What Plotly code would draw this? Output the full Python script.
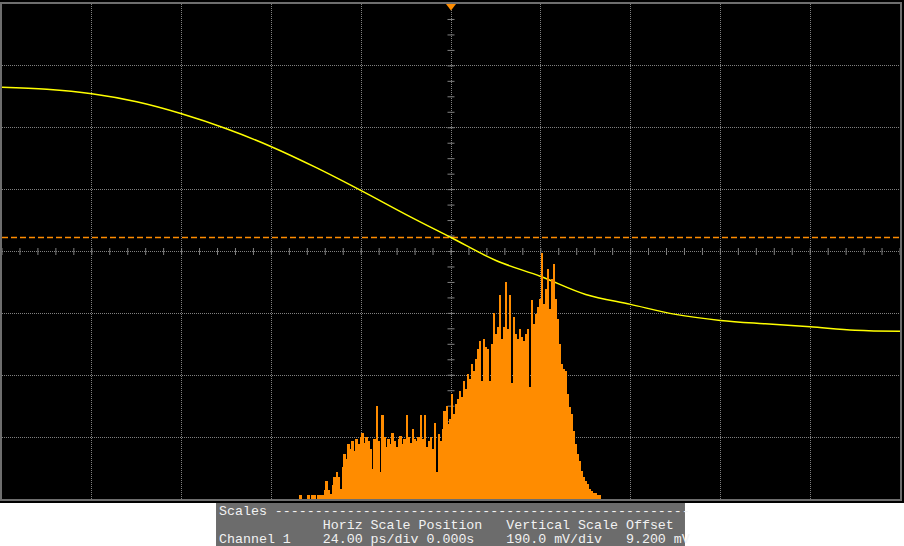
import numpy as np
import plotly.graph_objects as go

# ---- scope settings ----
time_per_div_ps = 24.0
volt_per_div_mv = 190.0
offset_mv = 9.2
threshold_mv = 52.1
n_hdiv = 10
n_vdiv = 8

# ---- channel 1 waveform (time ps, voltage mV) ----
wave_t_ps = [-120, -108, -96, -84, -72, -60, -48, -36, -24, -12, 0,
             12, 24, 36, 48, 60, 72, 84, 96, 108, 120]
wave_mv = [513.3, 507.2, 493.4, 468.9, 432.1, 386.1, 331.0, 266.6, 196.1, 122.6, 52.1,
           -18.4, -67.4, -122.6, -153.2, -183.9, -202.3, -213.0, -222.2, -232.9, -236.0]

# ---- timing histogram (hits per bin) ----
hist_start_ps = -40.4
hist_bin_ps = 0.5333
hist_hits = [
    4, 0, 0, 0, 4, 0, 4, 4, 0, 4,
    4, 4, 9, 18, 9, 5, 14, 22, 27, 22,
    10, 32, 45, 40, 55, 50, 58, 48, 60, 55,
    62, 66, 56, 62, 58, 50, 30, 60, 93, 58,
    27, 84, 62, 52, 60, 55, 66, 58, 52, 60,
    63, 55, 60, 84, 62, 56, 70, 60, 58, 62,
    84, 60, 84, 52, 58, 62, 50, 76, 27, 65,
    58, 70, 88, 93, 75, 80, 105, 85, 95, 100,
    108, 102, 118, 110, 125, 120, 135, 128, 140, 150,
    158, 118, 160, 152, 150, 118, 155, 186, 165, 172,
    204, 160, 172, 217, 170, 204, 116, 182, 165, 160,
    170, 162, 158, 165, 170, 112, 199, 175, 185, 192,
    200, 247, 195, 210, 230, 190, 220, 235, 200, 180,
    155, 135, 130, 128, 105, 92, 85, 68, 55, 45,
    38, 28, 22, 18, 15, 10, 8, 6, 6, 4,
    4,
]
hist_full_scale = 496

# ---- scales panel text ----
panel_lines = [
    "Scales " + "-" * 52,
    "             Horiz Scale Position   Vertical Scale Offset",
    "Channel 1    24.00 ps/div 0.000s    190.0 mV/div   9.200 mV",
]

# ---- colours ----
ORANGE = "#ff8c00"
YELLOW = "#ffff00"
GRID = "#808080"
FRAME = "#6e6e6e"

x_half = time_per_div_ps * n_hdiv / 2
y_lo = offset_mv - volt_per_div_mv * n_vdiv / 2
y_hi = offset_mv + volt_per_div_mv * n_vdiv / 2

hist_centers = hist_start_ps + hist_bin_ps * (np.arange(len(hist_hits)) + 0.5)

fig = go.Figure()

fig.add_trace(go.Bar(
    x=hist_centers, y=hist_hits, width=hist_bin_ps,
    marker=dict(color=ORANGE, line=dict(width=0)),
    yaxis="y2", hoverinfo="skip", showlegend=False,
))

# center-line minor ticks
htick_x = np.arange(-x_half, x_half + 1e-9, time_per_div_ps / 5)
fig.add_trace(go.Scatter(
    x=htick_x, y=[offset_mv] * len(htick_x), mode="markers",
    marker=dict(symbol="line-ns-open", size=5, color=GRID, line=dict(color=GRID, width=1)),
    hoverinfo="skip", showlegend=False,
))
vtick_y = np.arange(y_lo, y_hi + 1e-9, volt_per_div_mv / 4)
fig.add_trace(go.Scatter(
    x=[0] * len(vtick_y), y=vtick_y, mode="markers",
    marker=dict(symbol="line-ew-open", size=5, color=GRID, line=dict(color=GRID, width=1)),
    hoverinfo="skip", showlegend=False,
))

# threshold dashed line
fig.add_trace(go.Scatter(
    x=[-x_half, x_half], y=[threshold_mv, threshold_mv], mode="lines",
    line=dict(color=ORANGE, width=1.5, dash="6px,3px"),
    hoverinfo="skip", showlegend=False,
))

# waveform
fig.add_trace(go.Scatter(
    x=wave_t_ps, y=wave_mv, mode="lines",
    line=dict(color=YELLOW, width=1.5, shape="spline"),
    hoverinfo="skip", showlegend=False,
))

# trigger marker
fig.add_trace(go.Scatter(
    x=[0], y=[y_hi - 6], mode="markers",
    marker=dict(symbol="triangle-down", size=9, color=ORANGE),
    cliponaxis=False, hoverinfo="skip", showlegend=False,
))

W, H = 904, 546
L, R, T, B = 2, 2, 3, 47
pw, ph = W - L - R, H - T - B


def px(xp):
    return (xp - L) / pw


def py(yp):
    return (T + ph - yp) / ph


shapes = [
    dict(type="rect", xref="paper", yref="paper",
         x0=-0.01, x1=1.01, y0=py(503), y1=py(560),
         fillcolor="white", line=dict(width=0), layer="below"),
    dict(type="rect", xref="paper", yref="paper",
         x0=px(216.5), x1=px(686.5), y0=py(503), y1=py(560),
         fillcolor="#6c6c6c", line=dict(width=0), layer="below"),
]

annotations = []
for i, line in enumerate(panel_lines):
    annotations.append(dict(
        xref="paper", yref="paper", x=px(217.5), y=py(512 + 14 * i),
        xanchor="left", yanchor="middle", showarrow=False,
        text=line.replace(" ", "\u00a0"),
        font=dict(family="Liberation Mono, DejaVu Sans Mono, monospace",
                  size=13.3, color="#f2f2f2"),
    ))

axis_common = dict(
    showticklabels=False, zeroline=False, showgrid=True,
    gridcolor=GRID, griddash="1px,1px", gridwidth=1,
    showline=True, mirror=True, linecolor=FRAME, linewidth=2,
    ticks="", fixedrange=True,
)

fig.update_layout(
    width=W, height=H,
    margin=dict(l=L, r=R, t=T, b=B),
    paper_bgcolor="black", plot_bgcolor="black",
    bargap=0, showlegend=False,
    xaxis=dict(range=[-x_half, x_half], tick0=0, dtick=time_per_div_ps, **axis_common),
    yaxis=dict(range=[y_lo, y_hi], tick0=offset_mv, dtick=volt_per_div_mv, **axis_common),
    yaxis2=dict(range=[0, hist_full_scale], overlaying="y", visible=False, fixedrange=True),
    shapes=shapes,
    annotations=annotations,
)

fig.write_html(
    "out.html",
    config={"displayModeBar": False},
    post_script="document.body.style.margin='0';document.body.style.overflow='hidden';",
)
